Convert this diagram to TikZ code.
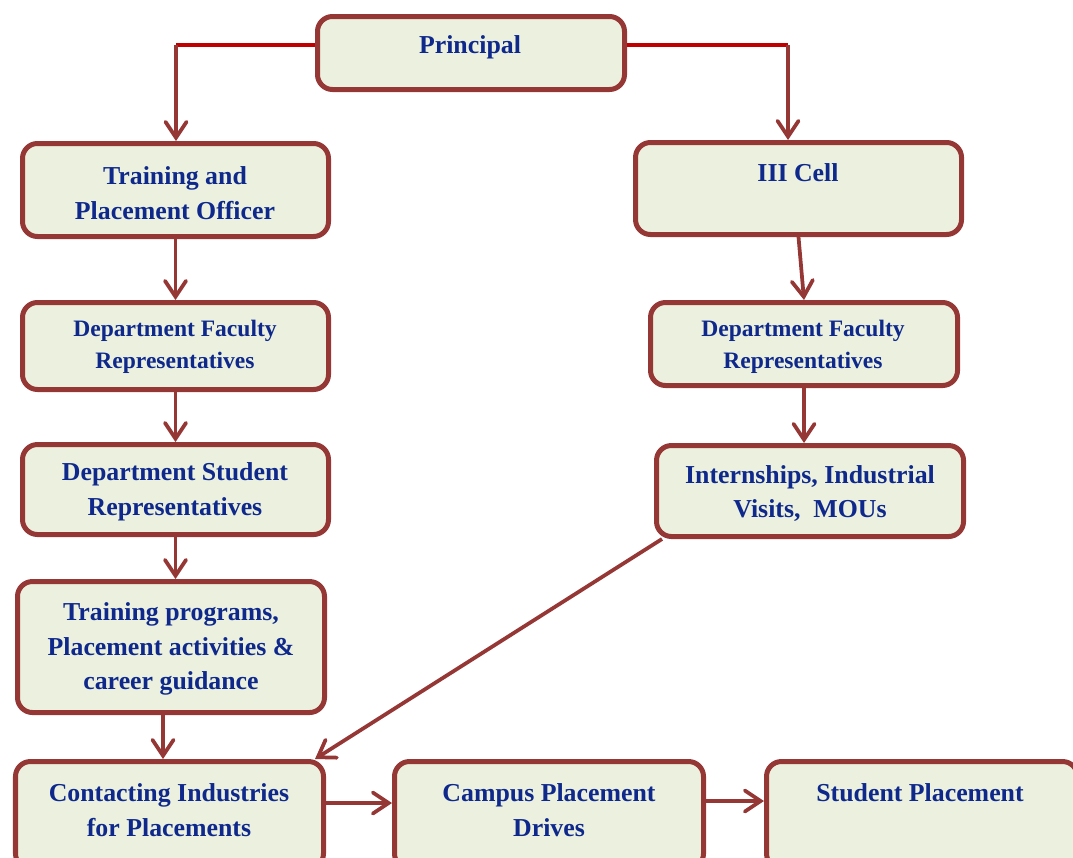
\documentclass[tikz,border=0pt]{standalone}
\usepackage{fontspec}
\setmainfont{Liberation Serif}
\usetikzlibrary{arrows.meta}

\definecolor{boxline}{RGB}{149,55,53}
\definecolor{boxfill}{RGB}{235,241,222}
\definecolor{boxtext}{RGB}{14,40,140}
\definecolor{topline}{RGB}{192,0,0}

\begin{document}
\begin{tikzpicture}[
    box/.style={draw=boxline, fill=boxfill, line width=0.1cm, rounded corners=0.3cm, inner sep=0pt},
    txt/.style={text=boxtext, font=\bfseries\fontsize{14.7}{19.8}\selectfont, align=center, inner sep=0pt},
    smalltxt/.style={txt, font=\bfseries\fontsize{13.4}{18.1}\selectfont},
    arr/.style={draw=boxline, line width=0.075cm, -{Straight Barb[length=9pt,width=12pt,line cap=round]}},
    redline/.style={draw=topline, line width=0.075cm}
]

    \clip (0,0) rectangle (21.46,-17.14);

    \coordinate (C1)  at (9.42, -1.06);
    \coordinate (C2)  at (3.51, -3.80);
    \coordinate (C3)  at (15.97, -3.77);
    \coordinate (C4)  at (3.51, -6.92);
    \coordinate (C5)  at (16.08, -6.88);
    \coordinate (C6)  at (3.51, -9.79);
    \coordinate (C7)  at (16.20, -9.82);
    \coordinate (C8)  at (3.42, -12.94);
    \coordinate (C9)  at (3.39, -16.30);
    \coordinate (C10) at (10.98, -16.30);
    \coordinate (C11) at (18.44, -16.30);

    \coordinate (E1) at (3.52, -0.90);
    \coordinate (E2) at (15.76, -0.90);

    % boxes
    \node [box, minimum width=6.14cm, minimum height=1.46cm] (N1)  at (C1)  {};
    \node [box, minimum width=6.12cm, minimum height=1.86cm] (N2)  at (C2)  {};
    \node [box, minimum width=6.52cm, minimum height=1.84cm] (N3)  at (C3)  {};
    \node [box, minimum width=6.12cm, minimum height=1.74cm] (N4)  at (C4)  {};
    \node [box, minimum width=6.14cm, minimum height=1.66cm] (N5)  at (C5)  {};
    \node [box, minimum width=6.12cm, minimum height=1.80cm] (N6)  at (C6)  {};
    \node [box, minimum width=6.14cm, minimum height=1.82cm] (N7)  at (C7)  {};
    \node [box, minimum width=6.14cm, minimum height=2.62cm] (N8)  at (C8)  {};
    \node [box, minimum width=6.16cm, minimum height=2.14cm] (N9)  at (C9)  {};
    \node [box, minimum width=6.18cm, minimum height=2.14cm] (N10) at (C10) {};
    \node [box, minimum width=6.22cm, minimum height=2.14cm] (N11) at (C11) {};

    % texts
    \node [txt]      (L1)  at (9.40, -0.94)   {Principal};
    \node [txt]      (L2)  at (3.50, -3.86)   {Training and\\Placement Officer};
    \node [txt]      (L3)  at (15.96, -3.46)  {III Cell};
    \node [smalltxt] (L4)  at (3.50, -6.93)   {Department Faculty\\Representatives};
    \node [smalltxt] (L5)  at (16.06, -6.93)  {Department Faculty\\Representatives};
    \node [txt]      (L6)  at (3.50, -9.84)   {Department Student\\Representatives};
    \node [txt]      (L7)  at (16.20, -9.87)  {Internships, Industrial\\Visits,\ \ MOUs};
    \node [txt]      (L8)  at (3.42, -12.98)  {Training programs,\\Placement activities \&\\career guidance};
    \node [txt]      (L9)  at (3.38, -16.20)  {Contacting Industries\\for Placements};
    \node [txt]      (L10) at (10.98, -16.20) {Campus Placement\\Drives};
    \node [txt]      (L11) at (18.40, -15.86) {Student Placement};

    % connectors
    \draw [redline] (E1) -- (E1 -| N1.west);
    \draw [redline] (E2) -- (E2 -| N1.east);
    \draw [arr] (E1) -- (E1 |- N2.north);
    \draw [arr] (E2) -- (E2 |- N3.north);

    \draw [arr] (N2.south) -- (N4.north);
    \draw [arr] (N4.south) -- (N6.north);
    \draw [arr] (N6.south) -- (N6.south |- N8.north);
    \draw [arr] ([xshift=-0.16cm]N8.south) -- ([xshift=-0.16cm]N8.south |- N9.north);

    \draw [arr] (N3.south) -- (N5.north);
    \draw [arr] (N5.south) -- (N5.south |- N7.north);
    \draw [arr] ([xshift=0.16cm]N7.south west) -- ([xshift=-0.22cm]N9.north east);

    \draw [arr] ([yshift=0.24cm]N9.east) -- ([yshift=0.24cm]N10.west);
    \draw [arr] ([yshift=0.28cm]N10.east) -- ([yshift=0.28cm]N11.west);

\end{tikzpicture}
\end{document}
